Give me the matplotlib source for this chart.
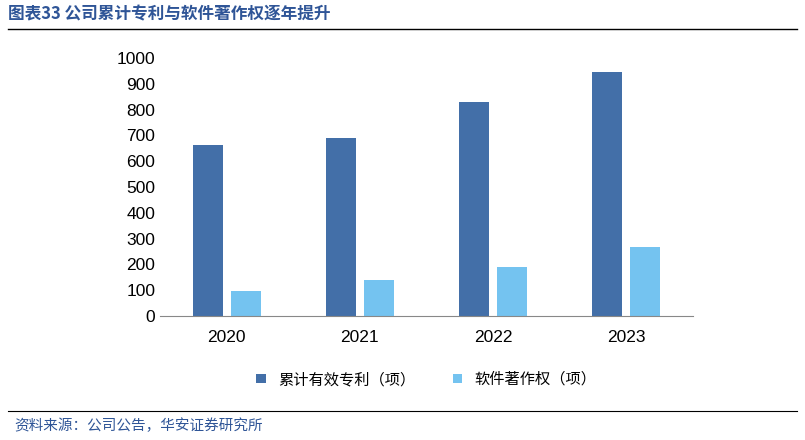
import matplotlib
matplotlib.use("Agg")
import matplotlib.pyplot as plt
import numpy as np

plt.rcParams['font.family'] = ['Noto Sans CJK SC', 'DejaVu Sans']

years = ["2020", "2021", "2022", "2023"]
patents = [662, 691, 830, 944]
software = [95, 139, 190, 267]
yticks = [0, 100, 200, 300, 400, 500, 600, 700, 800, 900, 1000]

fig = plt.figure(figsize=(8.05, 4.40), dpi=100)
ax = fig.add_axes([160/805, 1-316/440, (693-160)/805, (316-58)/440])
x = np.arange(len(years))
w = 0.225
ax.bar(x - 0.143, patents, w, color="#436FA8", label="累计有效专利（项）")
ax.bar(x + 0.143, software, w, color="#74C3F0", label="软件著作权（项）")
ax.set_xlim(-0.5, 3.5)
ax.set_ylim(0, 1000)
ax.set_yticks(yticks)
ax.set_xticks(x)
ax.set_xticklabels(years)
for lbl in ax.get_xticklabels() + ax.get_yticklabels():
    lbl.set_fontfamily("Liberation Sans")
ax.tick_params(axis='both', labelsize=12.5, length=0, colors="#000000")
ax.tick_params(axis='x', pad=10)
for s in ["top", "right", "left"]:
    ax.spines[s].set_visible(False)
ax.spines["bottom"].set_color("#888888")
ax.legend(loc="upper center", bbox_to_anchor=(0.5, -0.16), ncol=2, frameon=False,
          fontsize=11, handlelength=0.6, handleheight=0.6, columnspacing=2.5)

fig.text(8/805, 1-14/440, "图表33 公司累计专利与软件著作权逐年提升", color="#2F5597",
         fontsize=12, fontweight="bold", va="center")
fig.add_artist(plt.Line2D([8/805, 797/805], [1-29/440]*2, color="#000000", lw=1))
fig.add_artist(plt.Line2D([8/805, 797/805], [1-411/440]*2, color="#000000", lw=0.8))
fig.text(14/805, 1-426/440, "资料来源：公司公告，华安证券研究所", color="#2F5597", fontsize=10.5, va="center")
fig.savefig("out.png", dpi=100)
